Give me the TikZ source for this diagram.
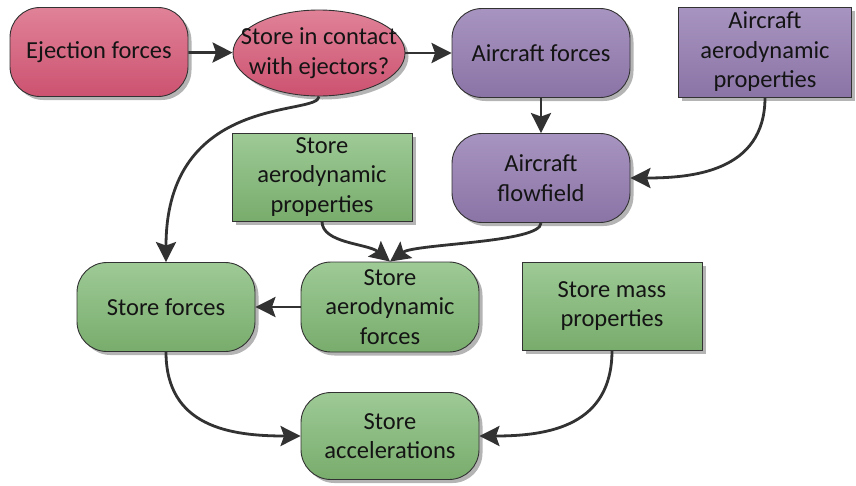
\documentclass[tikz,border=0pt]{standalone}
\usepackage{fontspec}
\setmainfont{Carlito}
\usetikzlibrary{arrows.meta,shapes.geometric,shadows}
\definecolor{pinkT}{RGB}{224,130,152}
\definecolor{pinkB}{RGB}{204,82,112}
\definecolor{purT}{RGB}{168,148,192}
\definecolor{purB}{RGB}{138,116,166}
\definecolor{grnT}{RGB}{158,202,150}
\definecolor{grnB}{RGB}{120,172,108}
\definecolor{edge}{RGB}{50,50,50}
\definecolor{shad}{RGB}{180,180,180}
\tikzset{
  base/.style={draw=edge, line width=0.9pt, align=center, inner sep=0pt,
    font=\fontsize{24.5}{29.5}\selectfont, text=black!92,
    drop shadow={shadow xshift=3.5pt, shadow yshift=-3.5pt, fill=shad, opacity=1}},
  roundbox/.style={base, rectangle, rounded corners=30pt, minimum width=178pt, minimum height=89pt},
  sqbox/.style={base, rectangle, minimum width=178pt, minimum height=87pt},
  ellbox/.style={base, ellipse, inner xsep=-40pt, inner ysep=-20pt, minimum width=172pt, minimum height=86pt},
  pinkfill/.style={top color=pinkT, bottom color=pinkB},
  purfill/.style={top color=purT, bottom color=purB},
  grnfill/.style={top color=grnT, bottom color=grnB},
  conn/.style={draw=edge, line width=2.8pt, -{Stealth[length=20pt,width=20pt,inset=3.5pt]}}
}
\begin{document}
\begin{tikzpicture}[x=1pt,y=-1pt]
\useasboundingbox (0,0) rectangle (856,485);
\node[roundbox,pinkfill] (ej) at (99,52) {Ejection forces};
\node[ellbox,pinkfill] (sc) at (319,53) {Store in contact\\with ejectors?};
\node[roundbox,purfill] (af) at (541,53) {Aircraft forces};
\node[sqbox,purfill,minimum width=173pt,minimum height=90pt] (aap) at (765,52) {Aircraft\\aerodynamic\\properties};
\node[roundbox,purfill] (ff) at (541,178) {Aircraft\\flowfield};
\node[sqbox,grnfill,minimum width=180pt,minimum height=88pt] (sap) at (322,177) {Store\\aerodynamic\\properties};
\node[roundbox,grnfill] (sf) at (166,307) {Store forces};
\node[roundbox,grnfill,minimum height=90pt] (saf) at (390,307) {Store\\aerodynamic\\forces};
\node[sqbox,grnfill,minimum width=180pt,minimum height=88pt] (smp) at (612,306) {Store mass\\properties};
\node[roundbox,grnfill,minimum height=87pt] (sa) at (390,436) {Store\\accelerations};

\draw[conn] (ej) -- (sc);
\draw[conn] (sc) -- (af);
\draw[conn] (af) -- (ff);
\draw[conn] (aap.south) .. controls +(0,75) and +(60,0) .. (ff.east);
\draw[conn] (sc.south) .. controls +(0,20) and +(0,-170) .. (sf.north);
\draw[conn] (sap.south) .. controls +(0,22) and +(-22,-18) .. (saf.north);
\draw[conn] (ff.south) .. controls +(0,20) and +(25,-18) .. (saf.north);
\draw[conn] (saf) -- (sf);
\draw[conn] (sf.south) .. controls +(0,75) and +(-70,0) .. (sa.west);
\draw[conn] (smp.south) .. controls +(0,75) and +(70,0) .. (sa.east);
\end{tikzpicture}
\end{document}
